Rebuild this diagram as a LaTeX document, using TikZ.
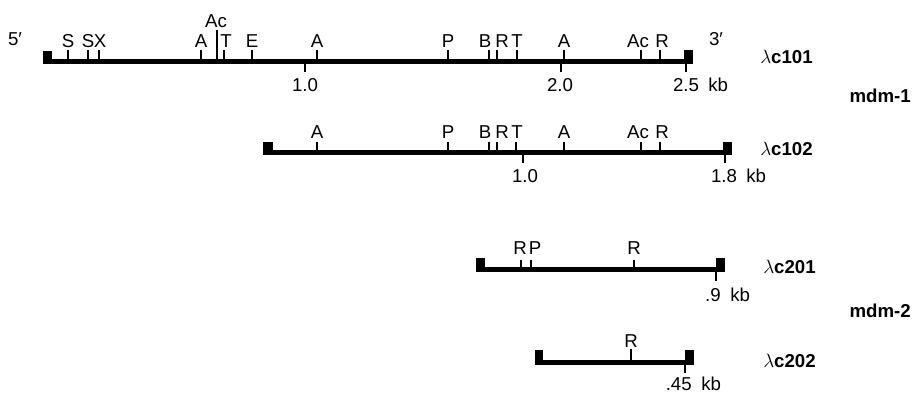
\documentclass[tikz,border=0pt]{standalone}
\usepackage{fontspec}
\setmainfont{Liberation Sans}
\begin{document}
\begin{tikzpicture}[x=0.75pt,y=-0.75pt,
  lab/.style={anchor=base,inner sep=0pt,font=\fontsize{14}{16}\selectfont},
  labe/.style={anchor=base east,inner sep=0pt,font=\fontsize{14}{16}\selectfont},
  labw/.style={anchor=base west,inner sep=0pt,font=\fontsize{14}{16}\selectfont},
  clone/.style={anchor=base west,inner sep=0pt,font=\fontsize{14}{16}\selectfont\bfseries},
  gene/.style={anchor=base east,inner sep=0pt,font=\fontsize{14}{16}\selectfont\bfseries},
  tk/.style={line width=0.9pt}]
\useasboundingbox (0,0) rectangle (915,393);

% ---------- lambda c101 ----------
\fill (43,59) rectangle (693,64);
\fill (43,51) rectangle (52,64);
\fill (684,50) rectangle (693,64);
\foreach \tx/\lx/\t [count=\i] in {68/68/S,88/88/S,99/100/X,201/201/A,224/226/T,252/252/E,317/317/A,448/448/P,489/485/B,497/502/R,517/517/T,564/564/A,641/638/Ac,660/662/R}{
  \node[lab] (a\i) at (\lx,47) {\t};
  \draw[tk] (\tx,50) -- (\tx,59);
}
\node[lab] (aAc) at (216,27) {Ac};
\draw[tk] (217,30) -- (217,59);
\node[lab] (five) at (15,45) {5′};
\node[lab] (three) at (716,45) {3′};
\draw[tk] (305,64) -- (305,72);
\draw[tk] (561,64) -- (561,72);
\draw[tk] (686,64) -- (686,72);
\node[lab] (a10) at (305,91) {1.0};
\node[lab] (a20) at (560,91) {2.0};
\node[lab] (a25) at (686,91) {2.5};
\node[labw] (akb) at (708,91) {kb};
\node[clone] (c101) at (760,63) {$\lambda$c101};

\node[gene] (mdm1) at (911,102) {mdm-1};

% ---------- lambda c102 ----------
\fill (263,150) rectangle (732,155);
\fill (263,142) rectangle (273,155);
\fill (723,142) rectangle (732,155);
\foreach \tx/\lx/\t [count=\i] in {317/317/A,448/448/P,489/485/B,497/502/R,516/517/T,564/564/A,641/638/Ac,660/662/R}{
  \node[lab] (b\i) at (\lx,138) {\t};
  \draw[tk] (\tx,142) -- (\tx,150);
}
\draw[tk] (523,155) -- (523,163);
\draw[tk] (725,155) -- (725,163);
\node[lab] (b10) at (525,182) {1.0};
\node[lab] (b18) at (724,182) {1.8};
\node[labw] (bkb) at (746,182) {kb};
\node[clone] (c102) at (760,155) {$\lambda$c102};

% ---------- lambda c201 ----------
\fill (476,267) rectangle (725,272);
\fill (476,258) rectangle (485,272);
\fill (716,258) rectangle (725,272);
\foreach \tx/\lx/\t [count=\i] in {521/520/R,531/535/P,634/634/R}{
  \node[lab] (d\i) at (\lx,254) {\t};
  \draw[tk] (\tx,260) -- (\tx,267);
}
\draw[tk] (716,272) -- (716,281);
\node[labe] (d09) at (721,301) {.9};
\node[labw] (dkb) at (730,301) {kb};
\node[clone] (c201) at (763,273) {$\lambda$c201};

\node[gene] (mdm2) at (911,317) {mdm-2};

% ---------- lambda c202 ----------
\fill (535,360) rectangle (694,365);
\fill (535,350) rectangle (543,365);
\fill (685,350) rectangle (694,365);
\node[lab] (e1) at (631,347) {R};
\draw[tk] (631,349) -- (631,360);
\draw[tk] (685,365) -- (685,373);
\node[labe] (e45) at (692,390) {.45};
\node[labw] (ekb) at (701,390) {kb};
\node[clone] (c202) at (763,367) {$\lambda$c202};
\end{tikzpicture}
\end{document}
